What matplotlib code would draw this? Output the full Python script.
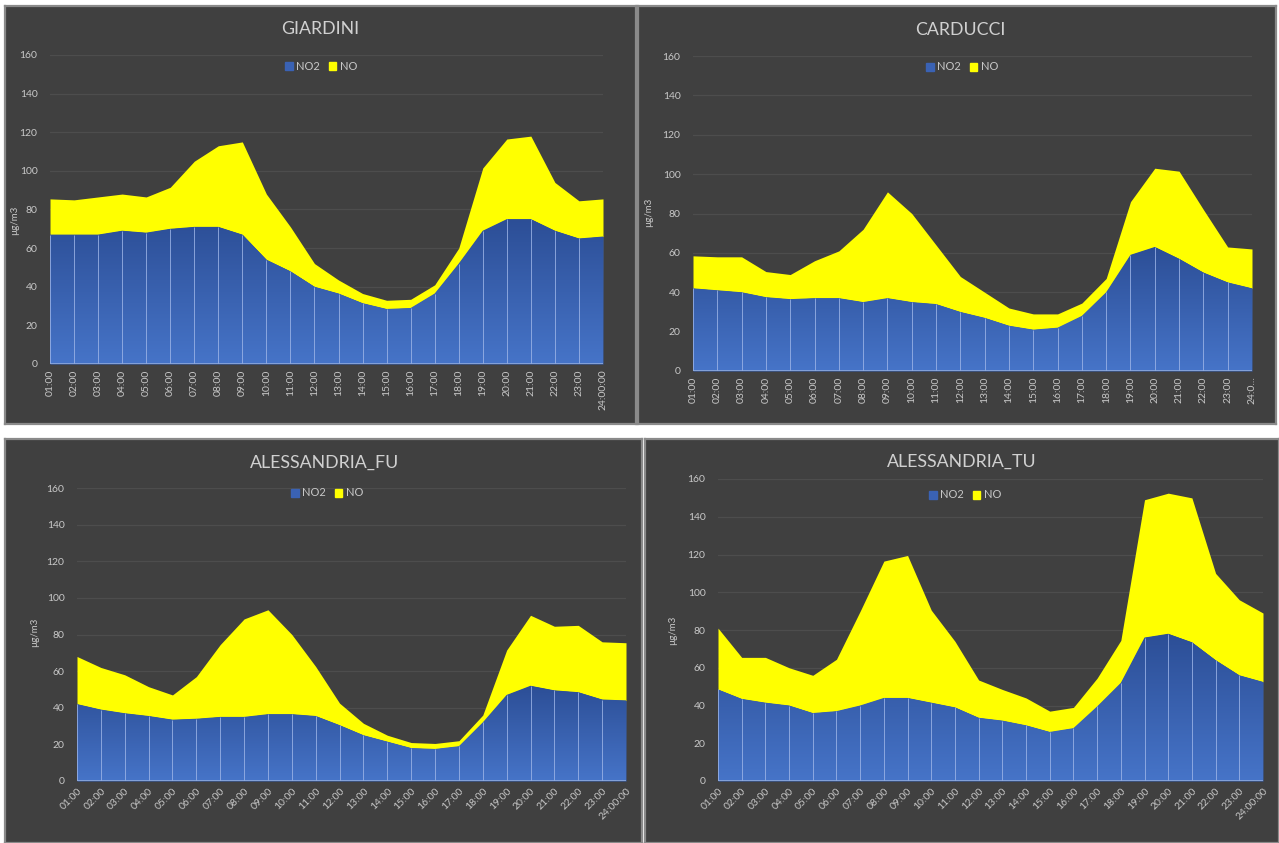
import numpy as np
import matplotlib.pyplot as plt
from matplotlib.patches import Patch
from matplotlib.colors import LinearSegmentedColormap

plt.rcParams['font.family'] = ['Lato', 'DejaVu Sans']

W, H = 1279, 843

hours = ['01:00', '02:00', '03:00', '04:00', '05:00', '06:00', '07:00', '08:00',
         '09:00', '10:00', '11:00', '12:00', '13:00', '14:00', '15:00', '16:00',
         '17:00', '18:00', '19:00', '20:00', '21:00', '22:00', '23:00', '24:00:00']
hours_carducci = hours[:-1] + ['24:0...']

giardini_no2 = [67, 67, 67, 69, 68, 70, 71, 71, 67, 54, 48, 40, 36.5, 31.5, 28.5, 29,
                36.5, 52, 69, 75, 75, 69, 65, 66]
giardini_no = [18.5, 18, 19.5, 19, 18.5, 21.5, 34, 42, 48, 34, 23, 12, 7, 5, 4.5, 4.5,
               4.5, 8, 32.5, 41.5, 43, 25, 19.5, 19.5]

carducci_no2 = [42, 41, 40, 37.5, 36.5, 37, 37, 35, 37, 35, 34, 30, 27, 23, 21, 22,
                28, 40, 59, 63, 57, 50, 45, 42]
carducci_no = [16.5, 17, 18, 13, 12.5, 19, 24, 37, 54, 45, 30, 18, 13, 9, 8, 7,
               6.5, 7, 27, 40, 44.5, 32, 18, 20]

fu_no2 = [42, 39, 37, 35.5, 33.5, 34, 35, 35, 36.5, 36.5, 35.5, 30.5, 25, 21.5, 18, 17.5,
          19, 32, 47, 52, 49.5, 48.5, 44.5, 44]
fu_no = [26, 23, 21, 16, 13.5, 23, 39.5, 53.5, 57, 43.5, 27, 12, 6.5, 3.5, 3, 3,
         3, 4, 24.5, 38.5, 35, 36.5, 31.5, 31.5]

tu_no2 = [48.5, 43.5, 41.5, 40, 36, 37, 40, 44, 44, 41.5, 39, 33.5, 32, 29.5, 26, 28,
          39.5, 52, 76, 78, 73.5, 64, 56, 52.5]
tu_no = [32.5, 22, 24, 20, 20, 27.5, 50, 72.5, 75.5, 49, 35, 20, 16.5, 14.5, 11, 11,
         15, 22.5, 73, 74.5, 76.5, 46, 40, 36.5]

BG = '#404040'
TXT = '#c8c8c8'
YELLOW = '#ffff00'
blue_cmap = LinearSegmentedColormap.from_list('b', ['#4674c8', '#2c4e96'])

# panel frame, plot area (x first, x last, y at 0, y at 160), title, legend, ylabel, rotation
panels = [
    dict(name='GIARDINI', no2=giardini_no2, no=giardini_no, labels=hours,
         frame=(5, 6, 636, 424), plot=(50, 603, 364, 55), title=(320, 29),
         legend=(321, 66), ylab=(15, 220), rot=90),
    dict(name='CARDUCCI', no2=carducci_no2, no=carducci_no, labels=hours_carducci,
         frame=(638, 6, 1276, 424), plot=(693, 1252, 371, 56), title=(960, 30),
         legend=(962, 67), ylab=(649, 212), rot=90),
    dict(name='ALESSANDRIA_FU', no2=fu_no2, no=fu_no, labels=hours,
         frame=(5, 439, 642, 843), plot=(77, 626, 781, 488), title=(325, 463),
         legend=(327, 493), ylab=(35, 632), rot=45),
    dict(name='ALESSANDRIA_TU', no2=tu_no2, no=tu_no, labels=hours,
         frame=(645, 439, 1279, 843), plot=(718, 1263, 781, 479), title=(962, 462),
         legend=(965, 495), ylab=(673, 630), rot=45),
]

fig = plt.figure(figsize=(W / 100, H / 100), dpi=100, facecolor='white')


def fbox(x0, y0, x1, y1):
    return [x0 / W, 1 - y1 / H, (x1 - x0) / W, (y1 - y0) / H]


for p in panels:
    fx0, fy0, fx1, fy1 = p['frame']
    bg = fig.add_axes(fbox(fx0, fy0, fx1, fy1))
    bg.set_facecolor(BG)
    bg.set_xticks([])
    bg.set_yticks([])
    for s in bg.spines.values():
        s.set_color('#8a8a8a')
        s.set_linewidth(1.6)

    px0, px1, py0, py1 = p['plot']
    ax = fig.add_axes(fbox(px0, py1, px1, py0))
    ax.patch.set_alpha(0)
    x = np.arange(len(p['no2']))
    no2 = np.array(p['no2'])
    tot = no2 + np.array(p['no'])

    ax.set_yticks(range(0, 161, 20))
    ax.grid(axis='y', color='#4d4d4d', lw=0.9, zorder=0)
    ax.set_axisbelow(True)

    ax.fill_between(x, no2, tot, color=YELLOW, lw=0, zorder=2)
    poly = ax.fill_between(x, 0, no2, color='#3a62b4', lw=0, zorder=3)
    grad = np.linspace(0, 1, 256).reshape(-1, 1)
    im = ax.imshow(grad, cmap=blue_cmap, origin='lower', aspect='auto',
                   extent=(0, 23, 0, no2.max()), zorder=3.5)
    im.set_clip_path(poly.get_paths()[0], ax.transData)
    ax.set_xlim(0, 23)
    ax.set_ylim(0, 160)
    ax.vlines(x, 0, no2, color='#9fb6e8', lw=0.7, alpha=0.8, zorder=4)
    ax.axhline(0, color='#8faadc', lw=1.2, zorder=5)

    for s in ax.spines.values():
        s.set_visible(False)
    ax.tick_params(axis='y', length=0, colors=TXT, labelsize=7.5, pad=9)
    ax.tick_params(axis='x', length=0, colors=TXT, labelsize=7.5, pad=4)
    ax.set_xticks(x)
    if p['rot'] == 90:
        ax.set_xticklabels(p['labels'], rotation=90)
    else:
        ax.set_xticklabels(p['labels'], rotation=45, ha='right',
                           rotation_mode='anchor')

    fig.text(p['title'][0] / W, 1 - p['title'][1] / H, p['name'], color='#d0d0d0',
             fontsize=12.8, ha='center', va='center')
    fig.text(p['ylab'][0] / W, 1 - p['ylab'][1] / H, 'µg/m3', color=TXT,
             fontsize=7, rotation=90, ha='center', va='center')

    handles = [Patch(color='#3a62b4'), Patch(color=YELLOW)]
    ax.legend(handles, ['NO2', 'NO'], loc='center', ncol=2, frameon=False,
              bbox_to_anchor=(p['legend'][0] / W, 1 - p['legend'][1] / H),
              bbox_transform=fig.transFigure, fontsize=8, labelcolor=TXT,
              handlelength=0.7, handleheight=0.7, handletextpad=0.3,
              columnspacing=0.8)

fig.savefig('out.png', dpi=100, facecolor='white')
